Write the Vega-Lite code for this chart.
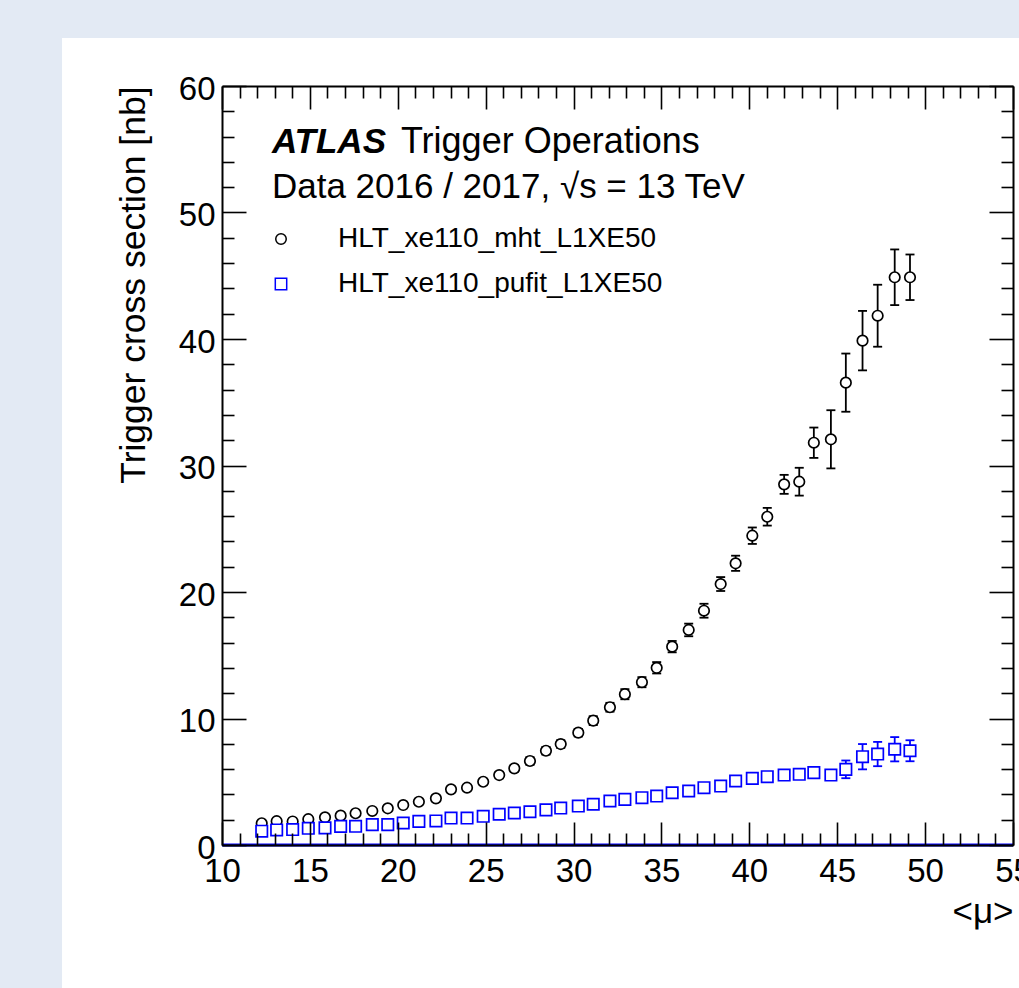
{
  "$schema": "https://vega.github.io/schema/vega-lite/v6.json",
  "width": 791,
  "height": 759,
  "autosize": {"type": "none"},
  "padding": {"left": 222, "top": 86, "right": 6, "bottom": 143},
  "background": "#e3eaf4",
  "config": {
    "view": {"stroke": null},
    "font": "Liberation Sans",
    "axis": {"grid": false, "zindex": 1, "labelFont": "Liberation Sans", "titleFont": "Liberation Sans", "labelColor": "black", "titleColor": "black", "domainColor": "black", "tickColor": "black", "titleFontWeight": "normal"}
  },
  "datasets": {
    "pts": [
      {"mu": 12.26, "sigma": 1.72, "lo": 1.57, "hi": 1.87, "trigger": "HLT_xe110_mht_L1XE50"},
      {"mu": 13.11, "sigma": 1.88, "lo": 1.73, "hi": 2.03, "trigger": "HLT_xe110_mht_L1XE50"},
      {"mu": 14.02, "sigma": 1.86, "lo": 1.71, "hi": 2.01, "trigger": "HLT_xe110_mht_L1XE50"},
      {"mu": 14.91, "sigma": 2.04, "lo": 1.89, "hi": 2.19, "trigger": "HLT_xe110_mht_L1XE50"},
      {"mu": 15.86, "sigma": 2.19, "lo": 2.04, "hi": 2.34, "trigger": "HLT_xe110_mht_L1XE50"},
      {"mu": 16.75, "sigma": 2.32, "lo": 2.17, "hi": 2.47, "trigger": "HLT_xe110_mht_L1XE50"},
      {"mu": 17.60, "sigma": 2.51, "lo": 2.36, "hi": 2.66, "trigger": "HLT_xe110_mht_L1XE50"},
      {"mu": 18.55, "sigma": 2.69, "lo": 2.54, "hi": 2.84, "trigger": "HLT_xe110_mht_L1XE50"},
      {"mu": 19.43, "sigma": 2.90, "lo": 2.75, "hi": 3.05, "trigger": "HLT_xe110_mht_L1XE50"},
      {"mu": 20.31, "sigma": 3.16, "lo": 3.01, "hi": 3.31, "trigger": "HLT_xe110_mht_L1XE50"},
      {"mu": 21.20, "sigma": 3.42, "lo": 3.22, "hi": 3.62, "trigger": "HLT_xe110_mht_L1XE50"},
      {"mu": 22.17, "sigma": 3.69, "lo": 3.49, "hi": 3.89, "trigger": "HLT_xe110_mht_L1XE50"},
      {"mu": 23.03, "sigma": 4.40, "lo": 4.20, "hi": 4.60, "trigger": "HLT_xe110_mht_L1XE50"},
      {"mu": 23.94, "sigma": 4.53, "lo": 4.33, "hi": 4.73, "trigger": "HLT_xe110_mht_L1XE50"},
      {"mu": 24.86, "sigma": 5.00, "lo": 4.80, "hi": 5.20, "trigger": "HLT_xe110_mht_L1XE50"},
      {"mu": 25.77, "sigma": 5.53, "lo": 5.28, "hi": 5.78, "trigger": "HLT_xe110_mht_L1XE50"},
      {"mu": 26.63, "sigma": 6.06, "lo": 5.81, "hi": 6.31, "trigger": "HLT_xe110_mht_L1XE50"},
      {"mu": 27.52, "sigma": 6.64, "lo": 6.34, "hi": 6.94, "trigger": "HLT_xe110_mht_L1XE50"},
      {"mu": 28.43, "sigma": 7.45, "lo": 7.15, "hi": 7.75, "trigger": "HLT_xe110_mht_L1XE50"},
      {"mu": 29.27, "sigma": 7.98, "lo": 7.68, "hi": 8.28, "trigger": "HLT_xe110_mht_L1XE50"},
      {"mu": 30.27, "sigma": 8.88, "lo": 8.58, "hi": 9.18, "trigger": "HLT_xe110_mht_L1XE50"},
      {"mu": 31.12, "sigma": 9.83, "lo": 9.48, "hi": 10.18, "trigger": "HLT_xe110_mht_L1XE50"},
      {"mu": 32.07, "sigma": 10.89, "lo": 10.54, "hi": 11.24, "trigger": "HLT_xe110_mht_L1XE50"},
      {"mu": 32.92, "sigma": 11.92, "lo": 11.52, "hi": 12.32, "trigger": "HLT_xe110_mht_L1XE50"},
      {"mu": 33.89, "sigma": 12.87, "lo": 12.47, "hi": 13.27, "trigger": "HLT_xe110_mht_L1XE50"},
      {"mu": 34.73, "sigma": 14.01, "lo": 13.56, "hi": 14.46, "trigger": "HLT_xe110_mht_L1XE50"},
      {"mu": 35.61, "sigma": 15.68, "lo": 15.23, "hi": 16.13, "trigger": "HLT_xe110_mht_L1XE50"},
      {"mu": 36.55, "sigma": 17.00, "lo": 16.50, "hi": 17.50, "trigger": "HLT_xe110_mht_L1XE50"},
      {"mu": 37.42, "sigma": 18.52, "lo": 17.97, "hi": 19.07, "trigger": "HLT_xe110_mht_L1XE50"},
      {"mu": 38.37, "sigma": 20.63, "lo": 20.08, "hi": 21.18, "trigger": "HLT_xe110_mht_L1XE50"},
      {"mu": 39.22, "sigma": 22.27, "lo": 21.67, "hi": 22.87, "trigger": "HLT_xe110_mht_L1XE50"},
      {"mu": 40.17, "sigma": 24.45, "lo": 23.80, "hi": 25.10, "trigger": "HLT_xe110_mht_L1XE50"},
      {"mu": 41.02, "sigma": 25.95, "lo": 25.25, "hi": 26.65, "trigger": "HLT_xe110_mht_L1XE50"},
      {"mu": 41.98, "sigma": 28.51, "lo": 27.76, "hi": 29.26, "trigger": "HLT_xe110_mht_L1XE50"},
      {"mu": 42.84, "sigma": 28.72, "lo": 27.62, "hi": 29.82, "trigger": "HLT_xe110_mht_L1XE50"},
      {"mu": 43.67, "sigma": 31.80, "lo": 30.60, "hi": 33.00, "trigger": "HLT_xe110_mht_L1XE50"},
      {"mu": 44.64, "sigma": 32.07, "lo": 29.77, "hi": 34.37, "trigger": "HLT_xe110_mht_L1XE50"},
      {"mu": 45.49, "sigma": 36.55, "lo": 34.25, "hi": 38.85, "trigger": "HLT_xe110_mht_L1XE50"},
      {"mu": 46.44, "sigma": 39.87, "lo": 37.52, "hi": 42.22, "trigger": "HLT_xe110_mht_L1XE50"},
      {"mu": 47.30, "sigma": 41.84, "lo": 39.39, "hi": 44.29, "trigger": "HLT_xe110_mht_L1XE50"},
      {"mu": 48.27, "sigma": 44.88, "lo": 42.68, "hi": 47.08, "trigger": "HLT_xe110_mht_L1XE50"},
      {"mu": 49.14, "sigma": 44.88, "lo": 43.08, "hi": 46.68, "trigger": "HLT_xe110_mht_L1XE50"},
      {"mu": 12.26, "sigma": 1.09, "lo": 0.99, "hi": 1.19, "trigger": "HLT_xe110_pufit_L1XE50"},
      {"mu": 13.11, "sigma": 1.19, "lo": 1.09, "hi": 1.29, "trigger": "HLT_xe110_pufit_L1XE50"},
      {"mu": 14.02, "sigma": 1.22, "lo": 1.12, "hi": 1.32, "trigger": "HLT_xe110_pufit_L1XE50"},
      {"mu": 14.91, "sigma": 1.32, "lo": 1.22, "hi": 1.42, "trigger": "HLT_xe110_pufit_L1XE50"},
      {"mu": 15.86, "sigma": 1.35, "lo": 1.25, "hi": 1.45, "trigger": "HLT_xe110_pufit_L1XE50"},
      {"mu": 16.75, "sigma": 1.47, "lo": 1.37, "hi": 1.57, "trigger": "HLT_xe110_pufit_L1XE50"},
      {"mu": 17.60, "sigma": 1.48, "lo": 1.38, "hi": 1.58, "trigger": "HLT_xe110_pufit_L1XE50"},
      {"mu": 18.55, "sigma": 1.61, "lo": 1.51, "hi": 1.71, "trigger": "HLT_xe110_pufit_L1XE50"},
      {"mu": 19.43, "sigma": 1.61, "lo": 1.51, "hi": 1.71, "trigger": "HLT_xe110_pufit_L1XE50"},
      {"mu": 20.31, "sigma": 1.74, "lo": 1.64, "hi": 1.84, "trigger": "HLT_xe110_pufit_L1XE50"},
      {"mu": 21.20, "sigma": 1.87, "lo": 1.77, "hi": 1.97, "trigger": "HLT_xe110_pufit_L1XE50"},
      {"mu": 22.17, "sigma": 1.90, "lo": 1.80, "hi": 2.00, "trigger": "HLT_xe110_pufit_L1XE50"},
      {"mu": 23.03, "sigma": 2.13, "lo": 2.03, "hi": 2.23, "trigger": "HLT_xe110_pufit_L1XE50"},
      {"mu": 23.94, "sigma": 2.13, "lo": 2.03, "hi": 2.23, "trigger": "HLT_xe110_pufit_L1XE50"},
      {"mu": 24.86, "sigma": 2.27, "lo": 2.17, "hi": 2.37, "trigger": "HLT_xe110_pufit_L1XE50"},
      {"mu": 25.77, "sigma": 2.43, "lo": 2.33, "hi": 2.53, "trigger": "HLT_xe110_pufit_L1XE50"},
      {"mu": 26.63, "sigma": 2.53, "lo": 2.43, "hi": 2.63, "trigger": "HLT_xe110_pufit_L1XE50"},
      {"mu": 27.52, "sigma": 2.63, "lo": 2.53, "hi": 2.73, "trigger": "HLT_xe110_pufit_L1XE50"},
      {"mu": 28.43, "sigma": 2.78, "lo": 2.68, "hi": 2.88, "trigger": "HLT_xe110_pufit_L1XE50"},
      {"mu": 29.27, "sigma": 2.92, "lo": 2.82, "hi": 3.02, "trigger": "HLT_xe110_pufit_L1XE50"},
      {"mu": 30.27, "sigma": 3.08, "lo": 2.93, "hi": 3.23, "trigger": "HLT_xe110_pufit_L1XE50"},
      {"mu": 31.12, "sigma": 3.22, "lo": 3.07, "hi": 3.37, "trigger": "HLT_xe110_pufit_L1XE50"},
      {"mu": 32.07, "sigma": 3.48, "lo": 3.33, "hi": 3.63, "trigger": "HLT_xe110_pufit_L1XE50"},
      {"mu": 32.92, "sigma": 3.61, "lo": 3.46, "hi": 3.76, "trigger": "HLT_xe110_pufit_L1XE50"},
      {"mu": 33.89, "sigma": 3.74, "lo": 3.59, "hi": 3.89, "trigger": "HLT_xe110_pufit_L1XE50"},
      {"mu": 34.73, "sigma": 3.87, "lo": 3.72, "hi": 4.02, "trigger": "HLT_xe110_pufit_L1XE50"},
      {"mu": 35.61, "sigma": 4.13, "lo": 3.98, "hi": 4.28, "trigger": "HLT_xe110_pufit_L1XE50"},
      {"mu": 36.55, "sigma": 4.27, "lo": 4.12, "hi": 4.42, "trigger": "HLT_xe110_pufit_L1XE50"},
      {"mu": 37.42, "sigma": 4.53, "lo": 4.38, "hi": 4.68, "trigger": "HLT_xe110_pufit_L1XE50"},
      {"mu": 38.37, "sigma": 4.66, "lo": 4.51, "hi": 4.81, "trigger": "HLT_xe110_pufit_L1XE50"},
      {"mu": 39.22, "sigma": 5.06, "lo": 4.86, "hi": 5.26, "trigger": "HLT_xe110_pufit_L1XE50"},
      {"mu": 40.17, "sigma": 5.27, "lo": 5.07, "hi": 5.47, "trigger": "HLT_xe110_pufit_L1XE50"},
      {"mu": 41.02, "sigma": 5.40, "lo": 5.20, "hi": 5.60, "trigger": "HLT_xe110_pufit_L1XE50"},
      {"mu": 41.98, "sigma": 5.53, "lo": 5.23, "hi": 5.83, "trigger": "HLT_xe110_pufit_L1XE50"},
      {"mu": 42.84, "sigma": 5.59, "lo": 5.29, "hi": 5.89, "trigger": "HLT_xe110_pufit_L1XE50"},
      {"mu": 43.67, "sigma": 5.72, "lo": 5.42, "hi": 6.02, "trigger": "HLT_xe110_pufit_L1XE50"},
      {"mu": 44.64, "sigma": 5.53, "lo": 5.18, "hi": 5.88, "trigger": "HLT_xe110_pufit_L1XE50"},
      {"mu": 45.49, "sigma": 5.98, "lo": 5.28, "hi": 6.68, "trigger": "HLT_xe110_pufit_L1XE50"},
      {"mu": 46.44, "sigma": 6.98, "lo": 5.98, "hi": 7.98, "trigger": "HLT_xe110_pufit_L1XE50"},
      {"mu": 47.30, "sigma": 7.19, "lo": 6.23, "hi": 8.15, "trigger": "HLT_xe110_pufit_L1XE50"},
      {"mu": 48.27, "sigma": 7.57, "lo": 6.61, "hi": 8.53, "trigger": "HLT_xe110_pufit_L1XE50"},
      {"mu": 49.14, "sigma": 7.45, "lo": 6.62, "hi": 8.28, "trigger": "HLT_xe110_pufit_L1XE50"}
    ]
  },
  "layer": [
    {
      "data": {"values": [{"panel": "pad"}]},
      "mark": {"type": "rect", "fill": "white", "clip": false},
      "encoding": {
        "x": {"datum": 0.9, "type": "quantitative", "scale": {"domain": [10, 55], "nice": false, "zero": false},
          "axis": {"orient": "bottom", "zindex": 1, "values": [10, 15, 20, 25, 30, 35, 40, 45, 50, 55], "ticks": false, "domain": true, "domainWidth": 2, "labelFontSize": 33, "labelPadding": 10, "labelFlush": false, "labelOverlap": false, "format": "d", "title": "<μ>", "titleFontSize": 35, "titleAnchor": "end", "titleAlign": "right", "titlePadding": 6}},
        "x2": {"datum": 60},
        "y": {"datum": 63.8, "type": "quantitative", "scale": {"domain": [0, 60], "nice": false, "zero": false},
          "axis": {"orient": "left", "zindex": 1, "values": [0, 10, 20, 30, 40, 50, 60], "ticks": false, "domain": true, "domainWidth": 2, "labelFontSize": 33, "labelPadding": 7, "labelFlush": false, "labelOverlap": false, "labelBaseline": "middle", "labelOffset": 3, "format": "d", "title": "Trigger cross section [nb]", "titleFontSize": 35.5, "titleAnchor": "end", "titlePadding": 27}},
        "y2": {"datum": -20}
      }
    },
    {
      "data": {"values": [{"level": 0}]},
      "mark": {"type": "rule", "color": "#0000ff", "strokeWidth": 3},
      "encoding": {
        "y": {"field": "level", "type": "quantitative", "scale": {"domain": [0, 60], "nice": false, "zero": false}, "axis": null}
      }
    },
    {
      "data": {"name": "pts"},
      "mark": {"type": "rule", "strokeWidth": 1.8},
      "encoding": {
        "x": {"field": "mu", "type": "quantitative", "scale": {"domain": [10, 55], "nice": false, "zero": false},
          "axis": {"orient": "bottom", "zindex": 1, "values": [10, 15, 20, 25, 30, 35, 40, 45, 50, 55], "labels": false, "domain": false, "tickSize": -23, "tickWidth": 1.6, "title": null}},
        "y": {"field": "lo", "type": "quantitative", "scale": {"domain": [0, 60], "nice": false, "zero": false},
          "axis": {"orient": "left", "zindex": 1, "values": [0, 10, 20, 30, 40, 50, 60], "labels": false, "domain": false, "tickSize": -24, "tickWidth": 1.6, "title": null}},
        "y2": {"field": "hi"},
        "color": {"condition": {"test": "datum.trigger === 'HLT_xe110_pufit_L1XE50'", "value": "#0000ff"}, "value": "black"}
      }
    },
    {
      "data": {"name": "pts"},
      "mark": {"type": "tick", "orient": "horizontal", "size": 9, "thickness": 1.8, "opacity": 1},
      "encoding": {
        "x": {"field": "mu", "type": "quantitative", "scale": {"domain": [10, 55], "nice": false, "zero": false},
          "axis": {"orient": "bottom", "zindex": 1, "values": [11, 12, 13, 14, 16, 17, 18, 19, 21, 22, 23, 24, 26, 27, 28, 29, 31, 32, 33, 34, 36, 37, 38, 39, 41, 42, 43, 44, 46, 47, 48, 49, 51, 52, 53, 54], "labels": false, "domain": false, "tickSize": -12, "tickWidth": 1.6, "title": null}},
        "y": {"field": "lo", "type": "quantitative", "scale": {"domain": [0, 60], "nice": false, "zero": false},
          "axis": {"orient": "left", "zindex": 1, "values": [2, 4, 6, 8, 12, 14, 16, 18, 22, 24, 26, 28, 32, 34, 36, 38, 42, 44, 46, 48, 52, 54, 56, 58], "labels": false, "domain": false, "tickSize": -12, "tickWidth": 1.6, "title": null}},
        "color": {"condition": {"test": "datum.trigger === 'HLT_xe110_pufit_L1XE50'", "value": "#0000ff"}, "value": "black"}
      }
    },
    {
      "data": {"name": "pts"},
      "mark": {"type": "tick", "orient": "horizontal", "size": 9, "thickness": 1.8, "opacity": 1},
      "encoding": {
        "x": {"field": "mu", "type": "quantitative", "scale": {"domain": [10, 55], "nice": false, "zero": false},
          "axis": {"orient": "top", "zindex": 1, "values": [10, 15, 20, 25, 30, 35, 40, 45, 50, 55], "labels": false, "domain": true, "domainWidth": 2, "tickSize": -23, "tickWidth": 1.6, "title": null}},
        "y": {"field": "hi", "type": "quantitative", "scale": {"domain": [0, 60], "nice": false, "zero": false},
          "axis": {"orient": "right", "zindex": 1, "values": [0, 10, 20, 30, 40, 50, 60], "labels": false, "domain": true, "domainWidth": 2, "tickSize": -24, "tickWidth": 1.6, "title": null}},
        "color": {"condition": {"test": "datum.trigger === 'HLT_xe110_pufit_L1XE50'", "value": "#0000ff"}, "value": "black"}
      }
    },
    {
      "data": {"name": "pts"},
      "mark": {"type": "point", "filled": false, "fill": "white", "strokeWidth": 1.7, "opacity": 1},
      "encoding": {
        "x": {"field": "mu", "type": "quantitative", "scale": {"domain": [10, 55], "nice": false, "zero": false},
          "axis": {"orient": "top", "zindex": 1, "values": [11, 12, 13, 14, 16, 17, 18, 19, 21, 22, 23, 24, 26, 27, 28, 29, 31, 32, 33, 34, 36, 37, 38, 39, 41, 42, 43, 44, 46, 47, 48, 49, 51, 52, 53, 54], "labels": false, "domain": false, "tickSize": -12, "tickWidth": 1.6, "title": null}},
        "y": {"field": "sigma", "type": "quantitative", "scale": {"domain": [0, 60], "nice": false, "zero": false},
          "axis": {"orient": "right", "zindex": 1, "values": [2, 4, 6, 8, 12, 14, 16, 18, 22, 24, 26, 28, 32, 34, 36, 38, 42, 44, 46, 48, 52, 54, 56, 58], "labels": false, "domain": false, "tickSize": -12, "tickWidth": 1.6, "title": null}},
        "color": {"field": "trigger", "type": "nominal", "scale": {"domain": ["HLT_xe110_mht_L1XE50", "HLT_xe110_pufit_L1XE50"], "range": ["black", "#0000ff"]},
          "legend": {"orient": "none", "legendX": 45, "legendY": 139, "title": null, "padding": 0, "labelFont": "Liberation Sans", "labelFontSize": 28, "labelColor": "black", "labelLimit": 0, "labelOffset": 43, "rowPadding": 17, "symbolSize": 60, "symbolStrokeWidth": 1.5, "symbolFillColor": "white"}},
        "shape": {"field": "trigger", "type": "nominal", "scale": {"domain": ["HLT_xe110_mht_L1XE50", "HLT_xe110_pufit_L1XE50"], "range": ["circle", "square"]},
          "legend": {"orient": "none", "legendX": 45, "legendY": 139, "title": null, "padding": 0, "labelFont": "Liberation Sans", "labelFontSize": 28, "labelColor": "black", "labelLimit": 0, "labelOffset": 43, "rowPadding": 17, "symbolSize": 60, "symbolStrokeWidth": 1.5, "symbolFillColor": "white"}},
        "size": {"field": "trigger", "type": "ordinal", "scale": {"domain": ["HLT_xe110_mht_L1XE50", "HLT_xe110_pufit_L1XE50"], "range": [110, 130]}, "legend": null}
      }
    },
    {
      "data": {"values": [{"label": "ATLAS"}]},
      "mark": {"type": "text", "font": "Liberation Sans", "fontSize": 35, "fontWeight": "bold", "fontStyle": "italic", "align": "left", "baseline": "alphabetic", "color": "black"},
      "encoding": {
        "x": {"datum": 12.84, "type": "quantitative", "scale": {"domain": [10, 55], "nice": false, "zero": false}, "axis": null},
        "y": {"datum": 54.70, "type": "quantitative", "scale": {"domain": [0, 60], "nice": false, "zero": false}, "axis": null},
        "text": {"field": "label"}
      }
    },
    {
      "data": {"values": [{"label": "Trigger Operations"}]},
      "mark": {"type": "text", "font": "Liberation Sans", "fontSize": 36, "align": "left", "baseline": "alphabetic", "color": "black"},
      "encoding": {
        "x": {"datum": 20.18, "type": "quantitative", "scale": {"domain": [10, 55], "nice": false, "zero": false}, "axis": null},
        "y": {"datum": 54.70, "type": "quantitative", "scale": {"domain": [0, 60], "nice": false, "zero": false}, "axis": null},
        "text": {"field": "label"}
      }
    },
    {
      "data": {"values": [{"label": "Data 2016 / 2017, √s = 13 TeV"}]},
      "mark": {"type": "text", "font": "Liberation Sans", "fontSize": 35, "align": "left", "baseline": "alphabetic", "color": "black"},
      "encoding": {
        "x": {"datum": 12.84, "type": "quantitative", "scale": {"domain": [10, 55], "nice": false, "zero": false}, "axis": null},
        "y": {"datum": 51.15, "type": "quantitative", "scale": {"domain": [0, 60], "nice": false, "zero": false}, "axis": null},
        "text": {"field": "label"}
      }
    }
  ],
  "resolve": {"axis": {"x": "independent", "y": "independent"}}
}
